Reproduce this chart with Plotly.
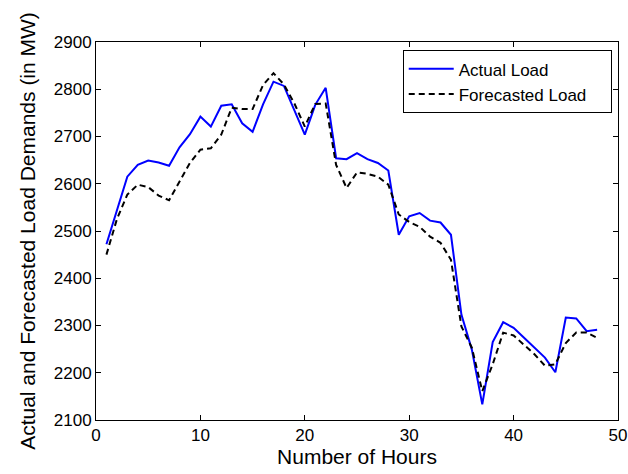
import plotly.graph_objects as go

hours = list(range(1, 49))
actual_load = [2472, 2545, 2615, 2640, 2649, 2645, 2638, 2677, 2705, 2742,
               2721, 2765, 2768, 2728, 2710, 2768, 2816, 2807, 2756, 2704,
               2767, 2803, 2654, 2652, 2665, 2652, 2644, 2628, 2492, 2531,
               2538, 2522, 2518, 2492, 2323, 2249, 2133, 2265, 2307, 2295,
               2274, 2253, 2232, 2201, 2317, 2315, 2288, 2291]
forecast_load = [2450, 2525, 2577, 2598, 2593, 2575, 2565, 2605, 2644, 2672,
                 2675, 2704, 2761, 2758, 2758, 2809, 2834, 2810, 2770, 2721,
                 2769, 2770, 2640, 2591, 2624, 2621, 2615, 2598, 2535, 2519,
                 2509, 2488, 2475, 2439, 2298, 2253, 2161, 2218, 2285, 2279,
                 2260, 2239, 2215, 2218, 2263, 2285, 2285, 2274]
legend_names = ["Actual Load", "Forecasted Load"]

pad = "\u00a0" * 4
fig = go.Figure()
fig.add_trace(go.Scatter(x=hours, y=actual_load, mode="lines", name=legend_names[0],
                         line=dict(color="#0000ff", width=2)))
fig.add_trace(go.Scatter(x=hours, y=forecast_load, mode="lines", name=legend_names[1] + pad,
                         line=dict(color="#000000", width=2, dash="6px,4px")))

font = "Liberation Sans, Arial, Helvetica, sans-serif"
axis_common = dict(showgrid=False, zeroline=False, showline=True, linecolor="black",
                   linewidth=1, mirror="ticks", ticks="inside", ticklen=5,
                   tickcolor="black", automargin=False,
                   tickfont=dict(size=17, color="black", family=font))
fig.update_layout(
    width=628, height=474,
    margin=dict(l=96, r=10, t=42, b=54),
    paper_bgcolor="white", plot_bgcolor="white",
    font=dict(family=font, color="black"),
    xaxis=dict(range=[0, 50], dtick=10,
               title=dict(text="Number of Hours", font=dict(size=21), standoff=4),
               **axis_common),
    yaxis=dict(range=[2100, 2900], dtick=100,
               title=dict(text="Actual and Forecasted Load Demands (in MW)", font=dict(size=21), standoff=12),
               **axis_common),
    legend=dict(x=0.988, y=0.978, xanchor="right", yanchor="top", bgcolor="white",
                bordercolor="black", borderwidth=1, font=dict(size=17, family=font),
                itemwidth=45, tracegroupgap=0),
    showlegend=True,
)
fig.write_html("out.html", config={"displayModeBar": False},
               post_script="document.body.style.margin='0';")
